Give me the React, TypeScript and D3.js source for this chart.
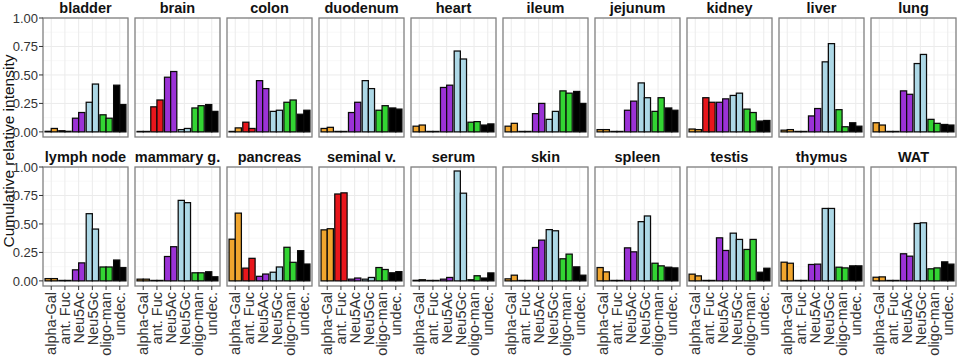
import React from 'react';
import * as d3 from 'd3';

// facets, two rows of ten
const tissues = [
  'bladder', 'brain', 'colon', 'duodenum', 'heart', 'ileum', 'jejunum', 'kidney', 'liver', 'lung',
  'lymph node', 'mammary g.', 'pancreas', 'seminal v.', 'serum', 'skin', 'spleen', 'testis', 'thymus', 'WAT'
];
const glycans = ['alpha-Gal', 'ant. Fuc', 'Neu5Ac', 'Neu5Gc', 'oligo-man', 'undec.'];
const glycanColors = ['#F0A52E', '#E8161C', '#9B32D6', '#ADD8E6', '#33D433', '#000000'];

// replicate 1, one row per tissue, columns follow glycans
const rep1 = [
  [0.005, 0.01, 0.12, 0.26, 0.15, 0.41],
  [0.004, 0.22, 0.48, 0.02, 0.21, 0.24],
  [0.004, 0.085, 0.45, 0.18, 0.26, 0.155],
  [0.03, 0.004, 0.17, 0.45, 0.19, 0.21],
  [0.05, 0.004, 0.39, 0.71, 0.085, 0.06],
  [0.05, 0.004, 0.16, 0.11, 0.36, 0.355],
  [0.02, 0.004, 0.19, 0.43, 0.18, 0.21],
  [0.025, 0.30, 0.26, 0.32, 0.20, 0.095],
  [0.015, 0.004, 0.14, 0.615, 0.195, 0.08],
  [0.08, 0.004, 0.36, 0.60, 0.11, 0.065],
  [0.02, 0.004, 0.097, 0.59, 0.122, 0.183],
  [0.015, 0.004, 0.214, 0.707, 0.071, 0.08],
  [0.366, 0.112, 0.04, 0.076, 0.295, 0.265],
  [0.448, 0.763, 0.015, 0.015, 0.117, 0.071],
  [0.005, 0.004, 0.015, 0.965, 0.01, 0.025],
  [0.018, 0.004, 0.293, 0.45, 0.194, 0.123],
  [0.117, 0.004, 0.29, 0.52, 0.155, 0.12],
  [0.059, 0.004, 0.378, 0.419, 0.276, 0.076],
  [0.164, 0.004, 0.144, 0.636, 0.12, 0.132],
  [0.032, 0.004, 0.238, 0.504, 0.106, 0.167]
];

// replicate 2
const rep2 = [
  [0.03, 0.005, 0.17, 0.42, 0.12, 0.24],
  [0.004, 0.28, 0.53, 0.03, 0.23, 0.18],
  [0.035, 0.03, 0.38, 0.19, 0.28, 0.19],
  [0.04, 0.004, 0.26, 0.38, 0.23, 0.20],
  [0.06, 0.004, 0.41, 0.64, 0.09, 0.07],
  [0.075, 0.004, 0.25, 0.18, 0.34, 0.25],
  [0.02, 0.004, 0.27, 0.30, 0.30, 0.19],
  [0.02, 0.26, 0.29, 0.34, 0.17, 0.10],
  [0.02, 0.004, 0.205, 0.775, 0.045, 0.05],
  [0.06, 0.004, 0.33, 0.68, 0.075, 0.06],
  [0.02, 0.004, 0.158, 0.455, 0.122, 0.117],
  [0.015, 0.004, 0.30, 0.687, 0.071, 0.036],
  [0.595, 0.198, 0.06, 0.122, 0.163, 0.148],
  [0.458, 0.773, 0.025, 0.03, 0.10, 0.081],
  [0.01, 0.004, 0.03, 0.77, 0.045, 0.07],
  [0.05, 0.004, 0.358, 0.44, 0.235, 0.05],
  [0.079, 0.004, 0.255, 0.57, 0.132, 0.114],
  [0.044, 0.004, 0.267, 0.364, 0.364, 0.111],
  [0.155, 0.004, 0.147, 0.636, 0.114, 0.132],
  [0.035, 0.004, 0.217, 0.51, 0.114, 0.147]
];

const yTicks = [0, 0.25, 0.5, 0.75, 1];
const yMinor = [0.125, 0.375, 0.625, 0.875];

const FONT = '"Liberation Sans", Arial, sans-serif';

export default function App() {
  const width = 961;
  const height = 361;
  const nCol = 10;
  const panelH = 119;
  const rowTops = [18, 167];

  const colX = d3.scaleBand<number>()
    .domain(d3.range(nCol))
    .range([43, 956])
    .paddingInner(0.076)
    .paddingOuter(0);
  const panelW = colX.bandwidth();

  const x = d3.scaleBand<string>()
    .domain(glycans)
    .range([0, panelW])
    .paddingInner(0.1)
    .paddingOuter(0.15);
  const xRep = d3.scaleBand<number>()
    .domain([0, 1])
    .range([0, x.bandwidth()])
    .padding(0);
  const y = d3.scaleLinear().domain([-0.045, 1.0]).range([panelH, 0]);
  const fmt = d3.format('.2f');

  return (
    <svg width={width} height={height}
      style={{ position: 'absolute', left: 0, top: 0, background: '#fff', display: 'block' }}>
      <rect width={width} height={height} fill="#fff" />
      {tissues.map((t, ti) => {
        const row = Math.floor(ti / nCol);
        const col = ti % nCol;
        const px = colX(col)!;
        const py = rowTops[row];
        return (
          <g key={t} transform={`translate(${px},${py})`}>
            <rect width={panelW} height={panelH} fill="#fff" />
            {yMinor.map(v => (
              <line key={'m' + v} x1={0} x2={panelW} y1={y(v)} y2={y(v)} stroke="#f4f4f4" strokeWidth={0.6} />
            ))}
            {yTicks.map(v => (
              <line key={'g' + v} x1={0} x2={panelW} y1={y(v)} y2={y(v)} stroke="#ebebeb" strokeWidth={1} />
            ))}
            {glycans.map(g => (
              <line key={'v' + g} x1={x(g)! + x.bandwidth() / 2} x2={x(g)! + x.bandwidth() / 2}
                y1={0} y2={panelH} stroke="#ebebeb" strokeWidth={1} />
            ))}
            {glycans.map((g, gi) => [rep1[ti][gi], rep2[ti][gi]].map((v, ri) => (
              <rect key={g + ri}
                x={x(g)! + xRep(ri)!}
                y={y(v)}
                width={xRep.bandwidth()}
                height={y(0) - y(v)}
                fill={glycanColors[gi]}
                stroke="#0a0a0a"
                strokeWidth={1.25} />
            )))}
            <rect width={panelW} height={panelH} fill="none" stroke="#808080" strokeWidth={1.3} />
            <text x={panelW / 2} y={-5} textAnchor="middle" fontFamily={FONT}
              fontWeight="bold" fontSize={14.5} fill="#111">{t}</text>
            {col === 0 && yTicks.map(v => (
              <g key={'yt' + v}>
                <line x1={-4} x2={0} y1={y(v)} y2={y(v)} stroke="#333" strokeWidth={1} />
                <text x={-5} y={y(v)} dy="0.36em" textAnchor="end" fontFamily={FONT}
                  fontSize={13} fill="#333">{fmt(v)}</text>
              </g>
            ))}
            {row === 1 && glycans.map(g => {
              const cx = x(g)! + x.bandwidth() / 2;
              return (
                <g key={'xt' + g}>
                  <line x1={cx} x2={cx} y1={panelH} y2={panelH + 4} stroke="#333" strokeWidth={1} />
                  <text transform={`translate(${cx},${panelH + 6}) rotate(-90)`} dy="0.36em"
                    textAnchor="end" fontFamily={FONT} fontSize={14.5} fill="#333">{g}</text>
                </g>
              );
            })}
          </g>
        );
      })}
      <text transform="translate(14,151) rotate(-90)" textAnchor="middle" fontFamily={FONT}
        fontSize={15.5} fill="#111">Cumulative relative intensity</text>
    </svg>
  );
}
